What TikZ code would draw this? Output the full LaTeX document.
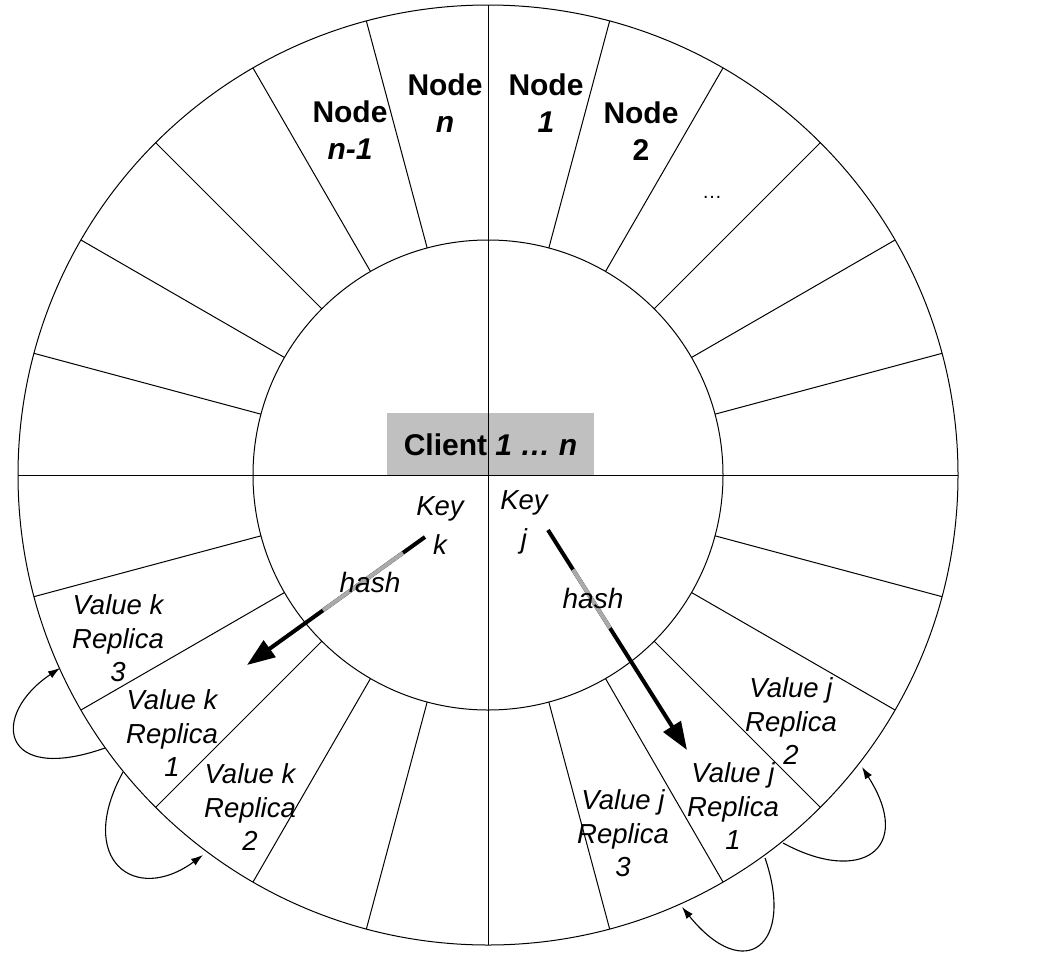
\documentclass[tikz,border=0pt]{standalone}
\usepackage{fontspec}
\setmainfont{Liberation Sans}
\usetikzlibrary{arrows.meta,calc}
\definecolor{boxgray}{RGB}{192,192,192}
\definecolor{hashgray}{RGB}{170,170,170}
\begin{document}
\begin{tikzpicture}[x=1pt,y=-1pt,
  wheel/.style={line width=1pt, black},
  nodelabel/.style={font=\bfseries\fontsize{30}{37}\selectfont, align=center, inner sep=0pt},
  vallabel/.style={font=\itshape\fontsize{27.5}{33.5}\selectfont, align=center, inner sep=0pt},
  keylabel/.style={font=\itshape\fontsize{27.5}{39}\selectfont, align=center, inner sep=0pt},
  hashlabel/.style={font=\itshape\fontsize{28}{34}\selectfont, inner sep=0pt},
  hasharrow/.style={line width=4pt, -{Triangle[length=28pt,width=20pt]}},
  hashmid/.style={line width=4pt, hashgray},
  replarrow/.style={line width=1.1pt, -{Latex[length=12pt,width=8pt]}},
]
\fill[white] (0,0) rectangle (1047,969);
\useasboundingbox (0,0) rectangle (1047,969);
\coordinate (C) at (488,475);

% client box
\node[fill=boxgray, minimum width=207pt, minimum height=63pt, inner sep=0pt,
      font=\bfseries\fontsize{30}{36}\selectfont] (client) at (490.5,444.5) {Client \textit{1 … n}};

% wheel
\draw[wheel] (C) circle[radius=470pt];
\draw[wheel] (C) circle[radius=235pt];
\foreach \a in {0,15,...,345} \draw[wheel] ($(C)+(\a:235pt)$) -- ($(C)+(\a:470pt)$);
\draw[wheel] ($(C)+(90:470pt)$) -- ($(C)+(270:470pt)$);
\draw[wheel] ($(C)+(180:470pt)$) -- ($(C)+(0:470pt)$);

% node labels
\node[nodelabel] (nodenm1) at (350,130.5) {Node\\\textit{n-1}};
\node[nodelabel] (noden) at (445,103) {Node\\\textit{n}};
\node[nodelabel] (node1) at (546,103.5) {Node\\\textit{1}};
\node[nodelabel] (node2) at (641,131) {Node\\2};
\node[font=\fontsize{20}{24}\selectfont, inner sep=0pt] (dots) at (712,197) {…};

% hash arrows
\coordinate (ks) at (425,537); \coordinate (kt) at (247,665);
\draw[hasharrow] (ks) -- (kt);
\draw[hashmid] ($(ks)!0.124!(kt)$) -- ($(ks)!0.573!(kt)$);
\coordinate (js) at (548,530); \coordinate (jt) at (687,750);
\draw[hasharrow] (js) -- (jt);
\draw[hashmid] ($(js)!0.18!(jt)$) -- ($(js)!0.446!(jt)$);

% key / hash labels
\node[keylabel] (keyk) at (440,526) {Key\\k};
\node[keylabel] (keyj) at (524,522) {Key\\j};
\node[hashlabel] (hashk) at (370,582) {hash};
\node[hashlabel] (hashj) at (593,598) {hash};

% value labels
\node[vallabel] (vk3) at (118,638.5) {Value k\\Replica\\3};
\node[vallabel] (vk1) at (172,733.5) {Value k\\Replica\\1};
\node[vallabel] (vk2) at (250,807.5) {Value k\\Replica\\2};
\node[vallabel] (vj2) at (791,721.5) {Value j\\Replica\\2};
\node[vallabel] (vj1) at (733,806.5) {Value j\\Replica\\1};
\node[vallabel] (vj3) at (623,833.5) {Value j\\Replica\\3};

% replica arrows
\coordinate (kr1a) at (105,748); \coordinate (kr3) at (60,668);
\draw[replarrow] (kr1a) .. controls (0,785) and (-10,715) .. (kr3);
\coordinate (kr1b) at (123,772); \coordinate (kr2) at (203,855);
\draw[replarrow] (kr1b) .. controls (75,860) and (135,905) .. (kr2);
\coordinate (jr1a) at (783,843); \coordinate (jr2) at (862,767);
\draw[replarrow] (jr1a) .. controls (860,885) and (915,850) .. (jr2);
\coordinate (jr1b) at (765,858); \coordinate (jr3) at (682,907);
\draw[replarrow] (jr1b) .. controls (795,945) and (745,985) .. (jr3);
\end{tikzpicture}
\end{document}
